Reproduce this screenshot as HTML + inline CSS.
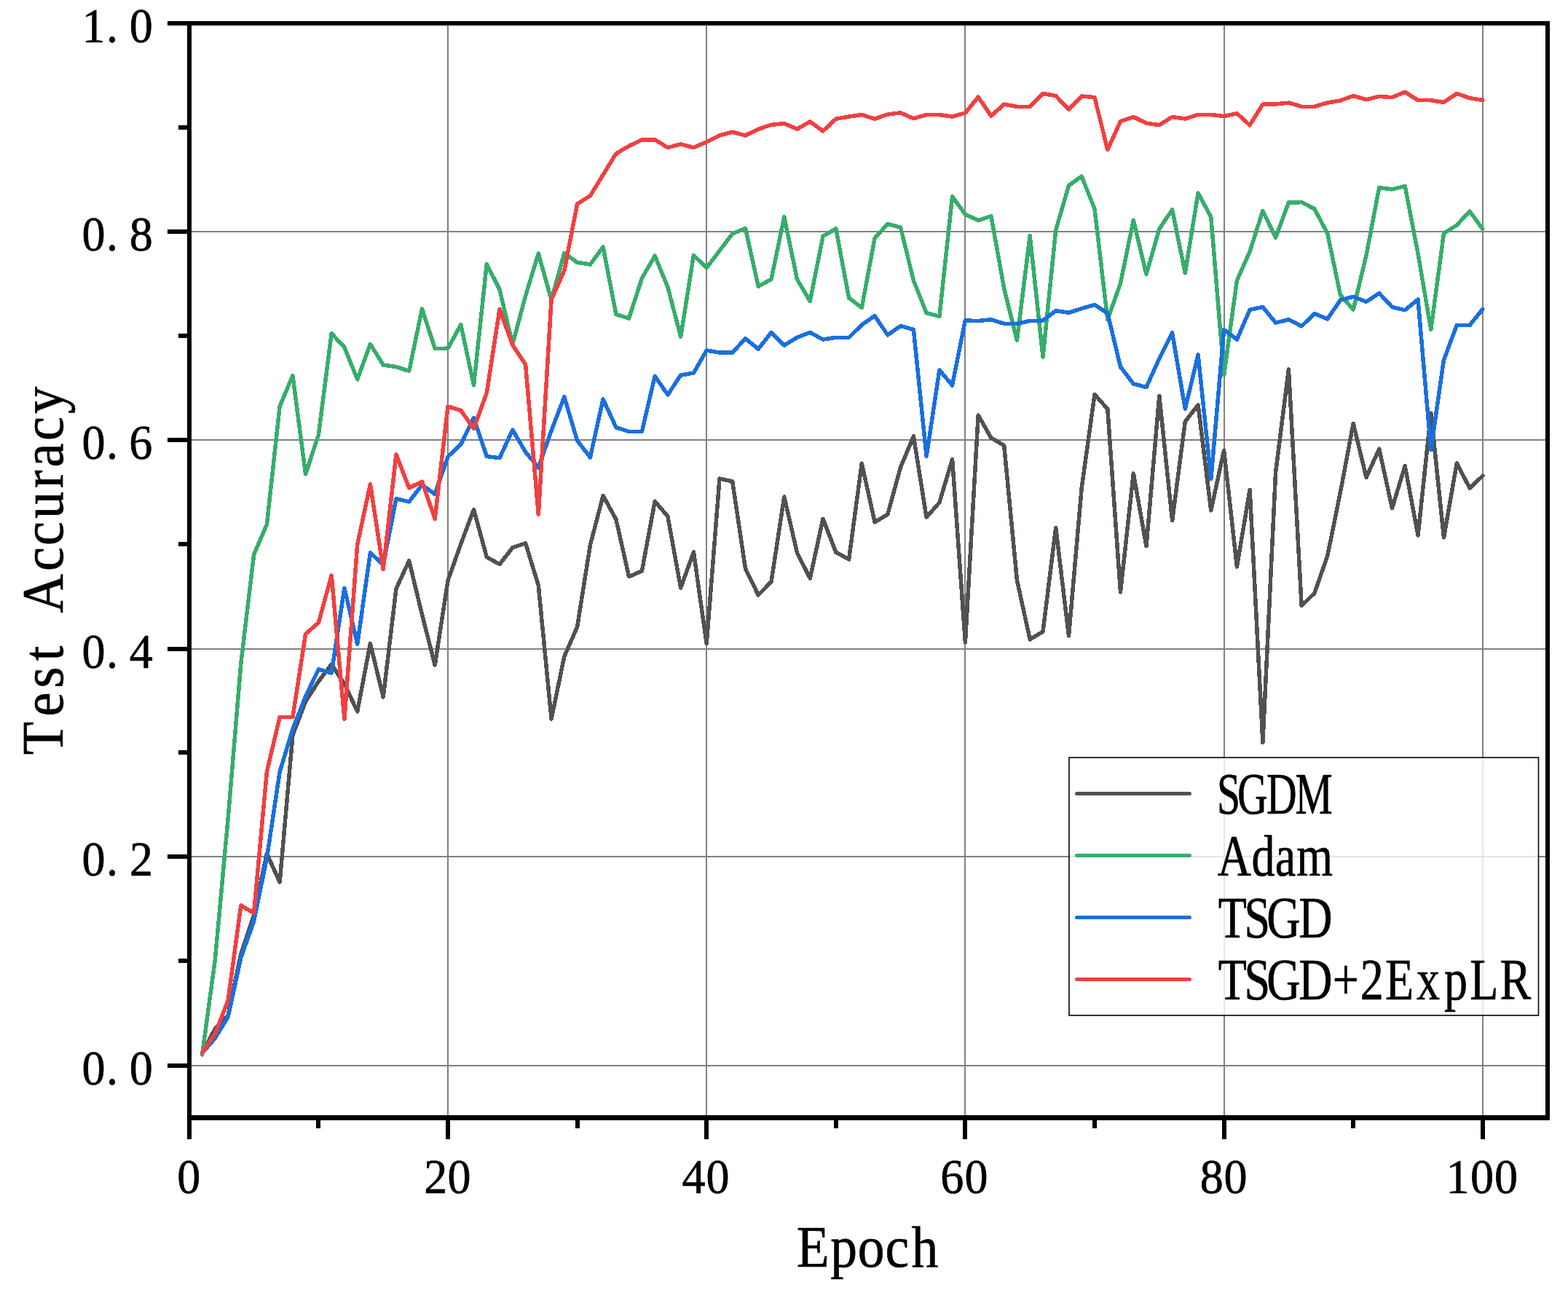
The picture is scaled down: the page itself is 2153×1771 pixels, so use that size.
<!DOCTYPE html>
<html lang="en"><head><meta charset="utf-8">
<style>html,body{margin:0;padding:0;background:#fff}body{width:2153px;height:1771px;overflow:hidden}svg{display:block}text{font-family:"Liberation Serif","Noto Serif CJK SC",serif;fill:#000;stroke:#000;stroke-width:0.7px;stroke-linejoin:round;white-space:pre}</style>
</head><body>
<svg width="2153" height="1771" viewBox="0 0 2153 1771">
<rect x="0" y="0" width="2153" height="1771" fill="#ffffff"/>
<g stroke="#808080" stroke-width="2" fill="none" shape-rendering="crispEdges">
<line x1="615" y1="32" x2="615" y2="1534"/>
<line x1="970" y1="32" x2="970" y2="1534"/>
<line x1="1325" y1="32" x2="1325" y2="1534"/>
<line x1="1681" y1="32" x2="1681" y2="1534"/>
<line x1="2036" y1="32" x2="2036" y2="1534"/>
<line x1="260" y1="1463" x2="2125" y2="1463"/>
<line x1="260" y1="1176" x2="2125" y2="1176"/>
<line x1="260" y1="891" x2="2125" y2="891"/>
<line x1="260" y1="604" x2="2125" y2="604"/>
<line x1="260" y1="318" x2="2125" y2="318"/>
</g>
<g fill="none" stroke-width="5.5" stroke-linejoin="round" stroke-linecap="round" shape-rendering="crispEdges">
<polyline stroke="#515151" points="277.6,1445.6 295.3,1412.5 313.1,1394 330.8,1309.6 348.6,1256 366.4,1172 384.1,1211 401.9,1009.5 419.6,963 437.4,935.5 455.2,912 472.9,938.8 490.7,976.8 508.4,883.5 526.2,957 544,808 561.7,770 579.5,843.6 597.2,913 615,797 632.8,746.7 650.5,699.5 668.3,764.8 686,774.7 703.8,751.8 721.6,745.8 739.3,803.7 757.1,987 774.8,901.3 792.6,860.7 810.4,748.4 828.1,680.5 845.9,713 863.6,791.7 881.4,783.8 899.2,688.2 916.9,709 934.7,807 952.4,757.9 970.2,883.5 988,657 1005.7,661 1023.5,780.6 1041.2,816.9 1059,798.8 1076.8,682 1094.5,759 1112.3,793.9 1130,712.3 1147.8,758.1 1165.6,768 1183.3,636.2 1201.1,716.8 1218.8,706.3 1236.6,641.4 1254.4,598.9 1272.1,710.1 1289.9,689.9 1307.6,630.5 1325.4,881.9 1343.2,570 1360.9,601.2 1378.7,611.6 1396.4,796.3 1414.2,877.9 1432,867.1 1449.7,724.5 1467.5,872.9 1485.2,670 1503,541.5 1520.8,561.5 1538.5,812.8 1556.3,650 1574,749.7 1591.8,543.6 1609.6,714.6 1627.3,578.8 1645.1,555.9 1662.8,700.8 1680.6,618.3 1698.4,778.1 1716.1,672.5 1733.9,1019.3 1751.6,648.6 1769.4,506.9 1787.2,831.7 1804.9,814.3 1822.7,763.3 1840.4,676 1858.2,581.3 1876,655.4 1893.7,616.3 1911.5,697.7 1929.2,639.7 1947,734.9 1964.8,567.1 1982.5,737.8 2000.3,635.9 2018,670.1 2035.8,653.3"/>
<polyline stroke="#37ad6b" points="277.6,1448 295.3,1318 313.1,1124 330.8,911 348.6,761.5 366.4,720 384.1,558 401.9,515.7 419.6,651 437.4,596.6 455.2,457.8 472.9,476.8 490.7,520.9 508.4,472.5 526.2,501 544,503.6 561.7,509.3 579.5,424 597.2,478.5 615,478.2 632.8,445.6 650.5,528.9 668.3,362.4 686,397.5 703.8,472.7 721.6,406.2 739.3,347.9 757.1,412 774.8,347.4 792.6,360.4 810.4,363 828.1,339.1 845.9,431.6 863.6,437 881.4,382 899.2,351.2 916.9,394.1 934.7,462.3 952.4,350.5 970.2,367.8 988,344.2 1005.7,320.9 1023.5,313.6 1041.2,393.2 1059,383.4 1076.8,297.8 1094.5,383.4 1112.3,413.6 1130,324.3 1147.8,313.9 1165.6,408.9 1183.3,422.4 1201.1,326.9 1218.8,307.4 1236.6,312.2 1254.4,385.2 1272.1,429.6 1289.9,434.3 1307.6,269.9 1325.4,294.2 1343.2,302.6 1360.9,296.7 1378.7,396 1396.4,467 1414.2,323.7 1432,490.2 1449.7,316 1467.5,254.7 1485.2,242.1 1503,286.7 1520.8,438.8 1538.5,389 1556.3,302.2 1574,376.5 1591.8,314.3 1609.6,288 1627.3,374.8 1645.1,265.1 1662.8,297.9 1680.6,514.9 1698.4,385.2 1716.1,345.4 1733.9,289.5 1751.6,326.2 1769.4,278 1787.2,277.7 1804.9,286.7 1822.7,320.4 1840.4,405 1858.2,425 1876,350.6 1893.7,257.6 1911.5,259.9 1929.2,255.5 1947,348 1964.8,452.2 1982.5,320.4 2000.3,309.1 2018,290 2035.8,314.3"/>
<polyline stroke="#1a6fdf" points="277.6,1445.6 295.3,1425.4 313.1,1396 330.8,1314.8 348.6,1264.7 366.4,1178 384.1,1059.7 401.9,1001 419.6,956 437.4,918.9 455.2,924 472.9,807.3 490.7,884.3 508.4,758.9 526.2,775.3 544,684.6 561.7,688.9 579.5,665.6 597.2,678.5 615,627 632.8,610.1 650.5,573.5 668.3,626.5 686,628.8 703.8,590.2 721.6,620.5 739.3,642.1 757.1,591.1 774.8,544.8 792.6,604.9 810.4,627.9 828.1,547.9 845.9,586.8 863.6,592.5 881.4,592.5 899.2,516.4 916.9,542 934.7,515.1 952.4,512 970.2,481 988,484.1 1005.7,484.1 1023.5,464.7 1041.2,479.2 1059,456.4 1076.8,474 1094.5,463.3 1112.3,456.4 1130,466.1 1147.8,463.3 1165.6,463.3 1183.3,446 1201.1,433.6 1218.8,459.9 1236.6,447.4 1254.4,452.6 1272.1,626.4 1289.9,508 1307.6,529 1325.4,440 1343.2,440.5 1360.9,438.8 1378.7,444.3 1396.4,444.3 1414.2,440.5 1432,440.1 1449.7,426.7 1467.5,429.3 1485.2,423.6 1503,418.4 1520.8,430.1 1538.5,503.6 1556.3,526.9 1574,531.6 1591.8,492.3 1609.6,456.9 1627.3,561.2 1645.1,487.1 1662.8,657.5 1680.6,452.6 1698.4,466.1 1716.1,425.3 1733.9,421.5 1751.6,443.1 1769.4,438.8 1787.2,447.8 1804.9,430.5 1822.7,437.9 1840.4,412 1858.2,407.3 1876,414.2 1893.7,402.5 1911.5,421.5 1929.2,425.8 1947,411.1 1964.8,617.7 1982.5,494.1 2000.3,446.5 2018,446.5 2035.8,424.6"/>
<polyline stroke="#f14040" points="277.6,1445.3 295.3,1419.4 313.1,1373.6 330.8,1243 348.6,1253.5 366.4,1059.7 384.1,984.6 401.9,984.6 419.6,870.4 437.4,854.8 455.2,790 472.9,987.2 490.7,747.6 508.4,664.7 526.2,781.3 544,624 561.7,669.9 579.5,661.2 597.2,712.2 615,558 632.8,563.4 650.5,588.5 668.3,539.3 686,424.5 703.8,473.6 721.6,500.4 739.3,706.1 757.1,411.3 774.8,371.6 792.6,280 810.4,268.8 828.1,239.9 845.9,210.9 863.6,200.5 881.4,191.8 899.2,191.8 916.9,202.6 934.7,197.9 952.4,202.6 970.2,194.8 988,186 1005.7,181.2 1023.5,186 1041.2,177.4 1059,171.4 1076.8,169.6 1094.5,177.1 1112.3,167 1130,180 1147.8,163.2 1165.6,160.1 1183.3,157.5 1201.1,163.2 1218.8,157 1236.6,154.9 1254.4,162.7 1272.1,157.5 1289.9,157.5 1307.6,160.1 1325.4,155 1343.2,133.2 1360.9,159.1 1378.7,143.2 1396.4,146.3 1414.2,146.3 1432,128.5 1449.7,131.5 1467.5,150.5 1485.2,132 1503,133.7 1520.8,205.5 1538.5,166.5 1556.3,160.5 1574,169.1 1591.8,171.7 1609.6,160.5 1627.3,163.1 1645.1,157.4 1662.8,157.4 1680.6,159.6 1698.4,155.7 1716.1,171.8 1733.9,143.2 1751.6,142.9 1769.4,141.1 1787.2,146.3 1804.9,146.3 1822.7,141.1 1840.4,138 1858.2,131.6 1876,136.8 1893.7,132.3 1911.5,133.7 1929.2,126.3 1947,137.7 1964.8,137.7 1982.5,140.5 2000.3,128.4 2018,134.6 2035.8,137.5"/>
</g>
<g fill="#000" shape-rendering="crispEdges">
<rect x="230" y="29" width="1898" height="6"/>
<rect x="257" y="29" width="6" height="1535"/>
<rect x="2122" y="29" width="6" height="1509"/>
<rect x="257" y="1531" width="1871" height="7"/>
<rect x="230" y="315" width="28" height="6"/>
<rect x="230" y="601" width="28" height="6"/>
<rect x="230" y="888" width="28" height="6"/>
<rect x="230" y="1173" width="28" height="6"/>
<rect x="230" y="1460" width="28" height="6"/>
<rect x="245" y="172" width="13" height="6"/>
<rect x="245" y="458" width="13" height="6"/>
<rect x="245" y="744" width="13" height="6"/>
<rect x="245" y="1030" width="13" height="6"/>
<rect x="245" y="1316" width="13" height="6"/>
<rect x="612" y="1537" width="6" height="27"/>
<rect x="967" y="1537" width="6" height="27"/>
<rect x="1322" y="1537" width="6" height="27"/>
<rect x="1678" y="1537" width="6" height="27"/>
<rect x="2033" y="1537" width="6" height="27"/>
<rect x="434" y="1537" width="6" height="12"/>
<rect x="790" y="1537" width="6" height="12"/>
<rect x="1145" y="1537" width="6" height="12"/>
<rect x="1500" y="1537" width="6" height="12"/>
<rect x="1855" y="1537" width="6" height="12"/>
</g>
<g>
<text transform="scale(0.95,1)" x="118.3 153.7 187.1" y="57.8" font-size="67.5">1.0</text>
<text transform="scale(0.95,1)" x="118.3 153.7 187.1" y="343.8" font-size="67.5">0.8</text>
<text transform="scale(0.95,1)" x="118.3 153.7 186.7" y="629.8" font-size="67.5">0.6</text>
<text transform="scale(0.95,1)" x="118.3 153.7 187" y="916.8" font-size="67.5">0.4</text>
<text transform="scale(0.95,1)" x="118.3 153.7 187.5" y="1201.8" font-size="67.5">0.2</text>
<text transform="scale(0.95,1)" x="118.3 153.7 187.1" y="1488.8" font-size="67.5">0.0</text>
</g>
<g>
<text transform="scale(0.95,1)" x="256" y="1638.3" font-size="67.5">0</text>
<text transform="scale(0.95,1)" x="612.8 646.9" y="1638.3" font-size="67.5">20</text>
<text transform="scale(0.95,1)" x="985.9 1020.6" y="1638.3" font-size="67.5">40</text>
<text transform="scale(0.95,1)" x="1359.3 1394.3" y="1638.3" font-size="67.5">60</text>
<text transform="scale(0.95,1)" x="1734.5 1769" y="1638.3" font-size="67.5">80</text>
<text transform="scale(0.95,1)" x="2090 2125.4 2160" y="1638.3" font-size="67.5">100</text>
</g>
<text transform="scale(0.92,1)" x="1188.9 1239.4 1280.2 1321.1 1360.3" y="1739" font-size="80">Epoch</text>
<text transform="translate(86,782.8) rotate(-90) scale(0.93,1)" x="-272.6 -215.7 -173.8 -133.8 -111.6 -63.4 -1.4 36.4 76.2 121 151.9 191.1 231" y="0" font-size="80">Test Accuracy</text>
<rect x="1468" y="1040" width="644.5" height="354" fill="#ffffff" fill-opacity="0.8" stroke="none"/>
<rect x="1468" y="1040" width="644.5" height="354" fill="none" stroke="#111" stroke-width="1.7"/>
<g fill="none" stroke-width="5" stroke-linecap="round">
<line x1="1478.5" y1="1089.5" x2="1633.5" y2="1089.5" stroke="#515151"/>
<line x1="1478.5" y1="1174.5" x2="1633.5" y2="1174.5" stroke="#37ad6b"/>
<line x1="1478.5" y1="1259.5" x2="1633.5" y2="1259.5" stroke="#1a6fdf"/>
<line x1="1478.5" y1="1344.5" x2="1633.5" y2="1344.5" stroke="#f14040"/>
</g>
<text transform="scale(0.72,1)" x="2321 2359.8 2415.3 2470.1" y="1117" font-size="80">SGDM</text>
<text transform="scale(0.8,1)" x="2089.8 2148.2 2188.5 2225.3" y="1202" font-size="80">Adam</text>
<text transform="scale(0.8,1)" x="2091.1 2135.5 2174 2229.2" y="1287" font-size="80">TSGD</text>
<text transform="scale(0.8,1)" x="2091.1 2135.5 2174 2229.2 2287.3 2334.6 2377.5 2431.3 2478.7 2522.9 2574.3" y="1372" font-size="80">TSGD+2ExpLR</text>
</svg>
</body></html>
